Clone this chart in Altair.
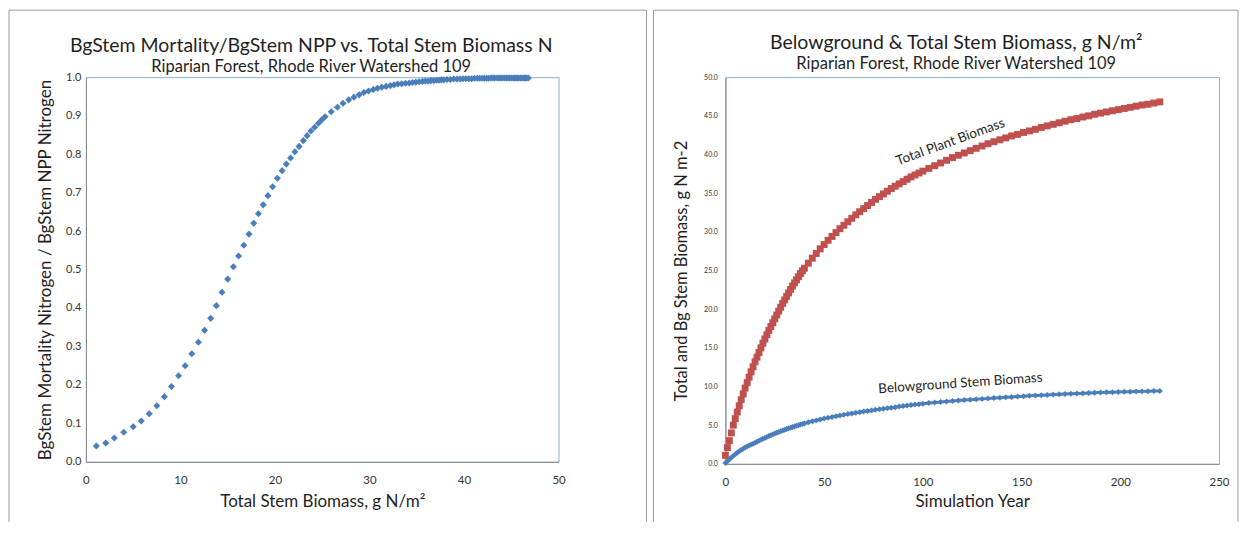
import altair as alt
import pandas as pd

# ---------------- data ----------------
YEARS = [0, 1, 2, 3, 4, 5, 6, 7, 8, 9, 10, 11, 12, 13, 14, 15, 16, 17, 18, 19, 20,
         21, 22, 23, 24, 25, 26, 27, 28, 29, 30, 31, 32, 33, 34, 35, 36, 37, 38, 39, 40,
         42, 44, 46, 48, 50, 52, 54, 56, 58, 60, 62, 64, 66, 68, 70, 72, 74, 76, 78, 80,
         82, 84, 86, 88, 90, 92, 94, 96, 98, 100,
         103, 106, 109, 112, 115, 118, 121, 124, 127, 130, 133, 136, 139, 142, 145, 148,
         151, 154, 157, 160, 163, 166, 169, 172, 175, 178, 181, 184, 187, 190, 193, 196,
         199, 202, 205, 208, 211, 214, 217, 220]

# Total plant (stem) biomass, g N/m2  (red series; also the x of the left chart)
TOTAL = [1.1, 2.1, 3.0, 4.0, 5.0, 5.85, 6.7, 7.5, 8.3, 9.05, 9.8, 10.5, 11.2, 11.9, 12.55,
         13.2, 13.8, 14.4, 15.0, 15.6, 16.15, 16.7, 17.25, 17.75, 18.25, 18.75, 19.25,
         19.75, 20.25, 20.75, 21.2, 21.65, 22.1, 22.55, 23.0, 23.4, 23.8, 24.2, 24.6,
         24.95, 25.3,
         25.95, 26.6, 27.2, 27.8, 28.35, 28.9, 29.4, 29.9, 30.4, 30.85, 31.3, 31.75, 32.2,
         32.6, 33.0, 33.4, 33.8, 34.2, 34.55, 34.9, 35.25, 35.6, 35.9, 36.2, 36.5, 36.8,
         37.1, 37.35, 37.6, 37.85,
         38.2, 38.55, 38.9, 39.25, 39.6, 39.9, 40.2, 40.5, 40.8, 41.1, 41.4, 41.65, 41.9,
         42.15, 42.4, 42.6, 42.85, 43.05, 43.25, 43.5, 43.7, 43.9, 44.1, 44.3, 44.5, 44.65,
         44.85, 45.0, 45.2, 45.35, 45.5, 45.65, 45.8, 45.95, 46.1, 46.25, 46.4, 46.5,
         46.65, 46.8]

# Belowground stem biomass, g N/m2 (blue series)
BELOW = [0.1, 0.35, 0.6, 0.83, 1.05, 1.25, 1.44, 1.62, 1.79, 1.95, 2.1, 2.24, 2.37, 2.49,
         2.61, 2.72, 2.85, 2.98, 3.11, 3.23, 3.35, 3.47, 3.59, 3.7, 3.81, 3.92, 4.02, 4.12,
         4.22, 4.32, 4.41, 4.5, 4.59, 4.68, 4.76, 4.84, 4.92, 5.0, 5.08, 5.15, 5.22,
         5.37, 5.5, 5.62, 5.74, 5.85, 5.95, 6.05, 6.15, 6.25, 6.34, 6.43, 6.52, 6.6, 6.68,
         6.76, 6.84, 6.91, 6.98, 7.05, 7.12, 7.19, 7.26, 7.33, 7.4, 7.47, 7.54, 7.6, 7.66,
         7.72, 7.78,
         7.86, 7.93, 8.0, 8.06, 8.12, 8.18, 8.24, 8.29, 8.34, 8.4, 8.45, 8.5, 8.55, 8.6,
         8.65, 8.7, 8.75, 8.79, 8.83, 8.87, 8.91, 8.95, 8.99, 9.03, 9.07, 9.1, 9.13, 9.16,
         9.19, 9.22, 9.25, 9.27, 9.29, 9.31, 9.33, 9.35, 9.37, 9.39, 9.41, 9.43]

# BgStem mortality / BgStem NPP (left chart y)
RATIO = [0.041, 0.049, 0.062, 0.077, 0.091, 0.106, 0.125, 0.146, 0.169, 0.196, 0.224,
         0.25, 0.281, 0.311, 0.342, 0.373, 0.406, 0.441, 0.475, 0.507, 0.535, 0.563,
         0.592, 0.62, 0.645, 0.668, 0.692, 0.715, 0.737, 0.757, 0.774, 0.79, 0.806, 0.82,
         0.835, 0.848, 0.86, 0.87, 0.88, 0.889, 0.897,
         0.91, 0.922, 0.932, 0.941, 0.948, 0.954, 0.96, 0.964, 0.968, 0.971, 0.974, 0.976,
         0.978, 0.98, 0.982, 0.983, 0.984, 0.985, 0.986, 0.987, 0.988, 0.989, 0.99, 0.99,
         0.991, 0.991, 0.992, 0.992, 0.993, 0.993,
         0.994, 0.994, 0.995, 0.995, 0.995, 0.996, 0.996, 0.996, 0.996, 0.997, 0.997,
         0.997, 0.997, 0.997, 0.997, 0.997, 0.998, 0.998, 0.998, 0.998, 0.998, 0.998,
         0.998, 0.998, 0.998, 0.998, 0.998, 0.998, 0.998, 0.998, 0.998, 0.998, 0.998,
         0.998, 0.998, 0.998, 0.998, 0.998, 0.998, 0.998]

X_TICKS_LEFT = [0, 10, 20, 30, 40, 50]
Y_TICKS_LEFT = [0.0, 0.1, 0.2, 0.3, 0.4, 0.5, 0.6, 0.7, 0.8, 0.9, 1.0]
X_TICKS_RIGHT = [0, 50, 100, 150, 200, 250]
Y_TICKS_RIGHT = [0, 5, 10, 15, 20, 25, 30, 35, 40, 45, 50]

LABEL_TEXT = ["Total Plant Biomass", "Belowground Stem Biomass"]
LABEL_YEAR = [114, 119]
LABEL_VALUE = [41.6, 10.4]

# ---------------- styles ----------------
BLUE = "#4A7EBB"
RED = "#C0504D"
BORDER = "#9a9a9a"
FRAME = "#8DB0DA"
AXIS = "#868686"
TEXT = "#1f1f1f"
LABEL = "#333333"
FONT = "Lato"

dummy = pd.DataFrame({"k": [0]})


def panel_border(x0, x1, y0, y1):
    base = alt.Chart(dummy)
    top = base.mark_rule(color=BORDER, strokeWidth=1).encode(
        x=alt.value(x0), x2=alt.value(x1), y=alt.value(y0))
    left = base.mark_rule(color=BORDER, strokeWidth=1).encode(
        x=alt.value(x0), y=alt.value(y0), y2=alt.value(y1))
    right = base.mark_rule(color=BORDER, strokeWidth=1).encode(
        x=alt.value(x1), y=alt.value(y0), y2=alt.value(y1))
    return [top, left, right]


# ---------------- left chart ----------------
df_left = pd.DataFrame({"total": TOTAL, "ratio": RATIO})
left_pts = alt.Chart(df_left).mark_point(
    shape="diamond", filled=True, size=50, color=BLUE, opacity=1, strokeWidth=0
).encode(
    x=alt.X("total:Q", scale=alt.Scale(domain=[0, 50], nice=False),
            axis=alt.Axis(values=X_TICKS_LEFT, format="d", labelFlush=False,
                          title="Total Stem Biomass, g N/m²",
                          labelFontSize=11.5, labelPadding=13,
                          titleFontSize=17, titleY=40, titleBaseline="middle")),
    y=alt.Y("ratio:Q", scale=alt.Scale(domain=[0, 1], nice=False),
            axis=alt.Axis(values=Y_TICKS_LEFT, format=".1f", labelFlush=False,
                          title="BgStem Mortality Nitrogen / BgStem NPP Nitrogen",
                          labelFontSize=11, labelPadding=5,
                          titleFontSize=17, titleX=-40, titleBaseline="middle")),
)

left = alt.layer(*panel_border(-77, 561, -67, 445), left_pts).properties(
    width=473, height=385,
    title=alt.TitleParams(
        text="BgStem Mortality/BgStem NPP vs. Total Stem Biomass N",
        subtitle="Riparian Forest, Rhode River Watershed 109",
        font=FONT, subtitleFont=FONT, fontSize=19.5, subtitleFontSize=16.5,
        fontWeight="normal", subtitleFontWeight="normal",
        color=TEXT, subtitleColor=TEXT, anchor="middle", frame="group",
        dx=-11, offset=-67, subtitlePadding=2.5),
)

# ---------------- right chart ----------------
df_right = pd.DataFrame({"year": YEARS, "total": TOTAL, "below": BELOW})

x_scale_r = alt.Scale(domain=[0, 250], nice=False)
y_scale_r = alt.Scale(domain=[0, 50], nice=False)
x_axis_r = alt.Axis(values=X_TICKS_RIGHT, format="d", labelFlush=False,
                    title="Simulation Year",
                    labelFontSize=11.5, labelPadding=13, titleFontSize=17,
                    titleY=38, titleBaseline="middle")
y_axis_r = alt.Axis(values=Y_TICKS_RIGHT, format=".1f", labelFlush=False,
                    title="Total and Bg Stem Biomass, g N m-2",
                    labelFontSize=7, labelPadding=8, titleFontSize=16.5,
                    titleX=-44, titleBaseline="middle")


def xr(field):
    return alt.X(field, scale=x_scale_r, axis=x_axis_r)


def yr(field):
    return alt.Y(field, scale=y_scale_r, axis=y_axis_r)


red_pts = alt.Chart(df_right).mark_point(
    shape="square", filled=True, size=48, color=RED, opacity=1, strokeWidth=0
).encode(x=xr("year:Q"), y=yr("total:Q"))

blue_line = alt.Chart(df_right).mark_line(color=BLUE, strokeWidth=3).encode(
    x=xr("year:Q"), y=yr("below:Q"))

blue_pts = alt.Chart(df_right).mark_point(
    shape="diamond", filled=True, size=36, color=BLUE, opacity=1, strokeWidth=0
).encode(x=xr("year:Q"), y=yr("below:Q"))

df_lab1 = pd.DataFrame({"year": [LABEL_YEAR[0]], "value": [LABEL_VALUE[0]], "text": [LABEL_TEXT[0]]})
df_lab2 = pd.DataFrame({"year": [LABEL_YEAR[1]], "value": [LABEL_VALUE[1]], "text": [LABEL_TEXT[1]]})

lab1 = alt.Chart(df_lab1).mark_text(angle=340, font=FONT, fontSize=13.5, color=TEXT).encode(
    x=xr("year:Q"), y=yr("value:Q"), text="text:N")
lab2 = alt.Chart(df_lab2).mark_text(angle=356, font=FONT, fontSize=13.5, color=TEXT).encode(
    x=xr("year:Q"), y=yr("value:Q"), text="text:N")

right = alt.layer(*panel_border(-72, 513, -67, 445), red_pts, blue_line, blue_pts,
                  lab1, lab2).properties(
    width=494, height=387,
    title=alt.TitleParams(
        text="Belowground & Total Stem Biomass, g N/m²",
        subtitle="Riparian Forest, Rhode River Watershed 109",
        font=FONT, subtitleFont=FONT, fontSize=19.5, subtitleFontSize=16.5,
        fontWeight="normal", subtitleFontWeight="normal",
        color=TEXT, subtitleColor=TEXT, anchor="middle", frame="group",
        dx=-16, offset=-64, subtitlePadding=3),
)

chart = alt.hconcat(left, right, spacing=5).properties(
    padding={"left": 0, "top": 1, "right": 0, "bottom": 0},
    background="white",
).configure_view(
    stroke=FRAME, strokeWidth=1
).configure_axis(
    grid=False, domainColor=AXIS, domainWidth=1, ticks=False, tickSize=0,
    labelFont=FONT, titleFont=FONT, labelColor=LABEL, titleColor=TEXT,
    titleFontWeight="normal",
)

chart.save("out.html", embed_options={"renderer": "svg", "actions": False})
